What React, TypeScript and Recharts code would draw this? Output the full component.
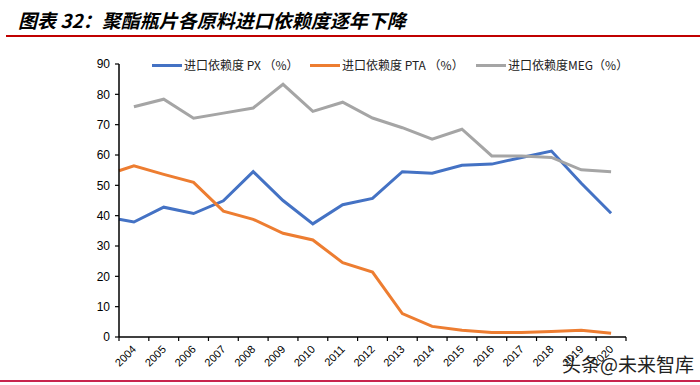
import React from "react";
import { LineChart, Line, XAxis, YAxis } from "recharts";

// years on the category axis; the first two series also start at the left edge of the axis
const years = [2004, 2005, 2006, 2007, 2008, 2009, 2010, 2011, 2012, 2013, 2014, 2015, 2016, 2017, 2018, 2019, 2020];
const pxStart = 38.8;
const ptaStart = 54.8;
const pxValues = [37.9, 42.8, 40.7, 44.9, 54.5, 45.0, 37.3, 43.6, 45.7, 54.5, 54.0, 56.6, 57.0, 59.2, 61.3, 50.7, 40.8];
const ptaValues = [56.4, 53.6, 51.0, 41.5, 38.8, 34.2, 32.0, 24.5, 21.4, 7.7, 3.5, 2.2, 1.5, 1.5, 1.8, 2.2, 1.2];
const megValues = [75.9, 78.4, 72.1, 73.8, 75.5, 83.3, 74.4, 77.4, 72.2, 69.0, 65.2, 68.5, 59.7, 59.7, 59.2, 55.1, 54.5];
const yTicks = [0, 10, 20, 30, 40, 50, 60, 70, 80, 90];

const seriesNames = ["进口依赖度 PX （%）", "进口依赖度 PTA （%）", "进口依赖度MEG（%）"];
const colors = ["#4472C4", "#ED7D31", "#A5A5A5"];

const data = [
  { x: years[0] - 0.5, px: pxStart, pta: ptaStart, meg: null as number | null },
  ...years.map((y, i) => ({ x: y, px: pxValues[i], pta: ptaValues[i], meg: megValues[i] as number | null })),
];

const bounds = [...years.map((y) => y - 0.5), years[years.length - 1] + 0.5];

const W = 700;
const H = 385;
const PLOT_W = 507;
const band = PLOT_W / years.length;

const tickFont = "'Liberation Sans', Arial, sans-serif";
const cjkFont = "'Noto Sans CJK SC', sans-serif";

function YearTick(props: any) {
  const { x, y, payload } = props;
  const year = payload.value + 0.5;
  if (year > years[years.length - 1]) return null;
  const cx = x + band / 2 + 3;
  const cy = y + 7;
  return (
    <text
      x={cx}
      y={cy}
      transform={`rotate(-45 ${cx} ${cy})`}
      textAnchor="end"
      fontSize={11}
      fontFamily={tickFont}
      fill="#000"
    >
      {year}
    </text>
  );
}

const legendX = [152, 310, 476];

export default function App() {
  return (
    <div
      style={{
        position: "absolute",
        left: 0,
        top: 0,
        width: W,
        height: H,
        background: "#fff",
        overflow: "hidden",
      }}
    >
      <div
        style={{
          position: "absolute",
          left: 18,
          top: 6,
          fontFamily: cjkFont,
          fontWeight: 700,
          fontStyle: "italic",
          fontSize: 19,
          color: "#000",
          whiteSpace: "nowrap",
        }}
      >
        图表 32：聚酯瓶片各原料进口依赖度逐年下降
      </div>
      <div style={{ position: "absolute", left: 6, top: 35, width: 694, height: 2, background: "#C00000" }} />

      {seriesNames.map((name, i) => (
        <div
          key={name}
          style={{
            position: "absolute",
            left: legendX[i],
            top: 57,
            display: "flex",
            alignItems: "center",
            whiteSpace: "nowrap",
          }}
        >
          <div style={{ width: 30, height: 3, background: colors[i], marginRight: 2 }} />
          <span style={{ fontFamily: cjkFont, fontSize: 12, color: "#222", lineHeight: "16px" }}>{name}</span>
        </div>
      ))}

      <div style={{ position: "absolute", left: 0, top: 0 }}>
        <LineChart width={W} height={H} data={data} margin={{ top: 64, right: 74, bottom: 8, left: 79 }}>
          <XAxis
            dataKey="x"
            type="number"
            domain={[bounds[0], bounds[bounds.length - 1]]}
            ticks={bounds}
            interval={0}
            height={40}
            tick={<YearTick />}
            tickSize={4}
            axisLine={{ stroke: "#000", strokeWidth: 1.5 }}
            tickLine={{ stroke: "#000", strokeWidth: 1.2 }}
          />
          <YAxis
            domain={[0, 90]}
            ticks={yTicks}
            interval={0}
            width={40}
            tickSize={4}
            tickMargin={5}
            tick={{ fontSize: 12, fontFamily: tickFont, fill: "#000" }}
            axisLine={{ stroke: "#000", strokeWidth: 1.5 }}
            tickLine={{ stroke: "#000", strokeWidth: 1.2 }}
          />
          <Line dataKey="px" stroke={colors[0]} strokeWidth={3} dot={false} isAnimationActive={false} type="linear" />
          <Line dataKey="pta" stroke={colors[1]} strokeWidth={3} dot={false} isAnimationActive={false} type="linear" />
          <Line dataKey="meg" stroke={colors[2]} strokeWidth={3} dot={false} isAnimationActive={false} type="linear" />
        </LineChart>
      </div>

      <div
        style={{
          position: "absolute",
          left: 562,
          top: 350,
          fontFamily: cjkFont,
          fontSize: 19,
          color: "#222",
          whiteSpace: "nowrap",
        }}
      >
        头条@未来智库
      </div>
      <div style={{ position: "absolute", left: 0, top: 380, width: 700, height: 2, background: "#C8254E" }} />
    </div>
  );
}
